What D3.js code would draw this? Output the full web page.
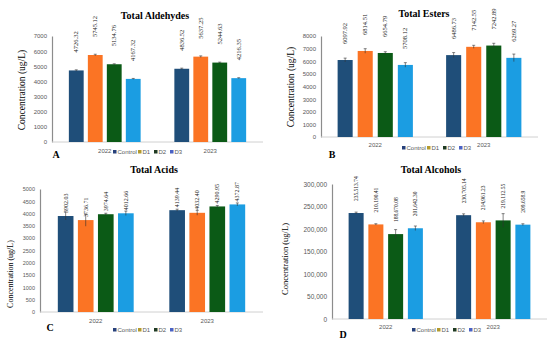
<!DOCTYPE html>
<html>
<head>
<meta charset="utf-8">
<script src="https://cdn.jsdelivr.net/npm/d3@7.9.0/dist/d3.min.js"></script>
<style>
  body { margin: 0; background: #fff; }
  svg { display: block; }
</style>
</head>
<body>
<div id="chart"></div>
<script>
const years = ['2022', '2023'];
const treatments = ['Control', 'D1', 'D2', 'D3'];

// values per year, in treatment order
const aldehydes = [[4726.32, 5745.12, 5134.76, 4167.32], [4836.52, 5637.25, 5244.63, 4216.35]];
const aldehydesErr = [[40, 50, 30, 30], [40, 50, 30, 30]];

const esters = [[6097.92, 6814.51, 6654.79, 5708.12], [6486.73, 7142.55, 7242.89, 6269.27]];
const estersErr = [[150, 180, 100, 180], [200, 120, 180, 300]];

const acids = [[3902.03, 3736.71, 3974.64, 4012.66], [4139.44, 4032.40, 4290.95, 4372.87]];
const acidsErr = [[160, 250, 40, 90], [40, 100, 40, 60]];

const alcohols = [[235513.74, 210190.41, 188670.08, 201642.30], [230705.14, 214961.23, 219112.55, 209658.9]];
const alcoholsErr = [[2000, 1500, 10000, 5000], [3000, 3000, 15000, 2000]];
const alcoholsLabels = [['235,513.74', '210,190.41', '188,670.08', '201,642.30'], ['230,705.14', '214,961.23', '219,112.55', '209,658.9']];

const barColors = ['#1f4e79', '#fb7424', '#0b5a16', '#1b9de2'];
const legendColors = ['#27407a', '#b39a2e', '#1f3a22', '#4a62c4'];

const svg = d3.select('#chart').append('svg')
  .attr('width', 550)
  .attr('height', 344);

const serif = '"Liberation Serif", "DejaVu Serif", serif';
const sans = '"Liberation Sans", Arial, sans-serif';

function drawPanel(p) {
  const g = svg.append('g');

  const x0 = d3.scaleBand()
    .domain(years)
    .range(p.xRange)
    .paddingInner(p.pad)
    .paddingOuter(p.pad / 2);

  const x1 = d3.scaleBand()
    .domain(treatments)
    .range([0, x0.bandwidth()])
    .paddingInner(p.innerPad)
    .paddingOuter(p.innerPad / 2);

  const y = d3.scaleLinear()
    .domain([0, p.max])
    .range(p.yRange);

  // title
  g.append('text')
    .attr('x', p.titleX).attr('y', p.titleY)
    .attr('text-anchor', 'middle')
    .style('font-family', serif).style('font-weight', 'bold')
    .style('font-size', '10px')
    .text(p.title);

  // y axis
  const yAxis = d3.axisLeft(y)
    .tickValues(d3.range(0, p.max + 1, p.step))
    .tickFormat(p.tickFmt)
    .tickSize(0)
    .tickPadding(5);

  const ya = g.append('g')
    .attr('transform', `translate(${p.xRange[0]},0)`)
    .call(yAxis);
  ya.select('.domain').attr('stroke', '#8c8c8c').attr('stroke-width', 1.2);
  ya.selectAll('text')
    .style('font-family', sans).style('font-size', p.tickSize + 'px')
    .attr('fill', '#595959');

  // x axis line
  g.append('line')
    .attr('x1', p.xRange[0]).attr('x2', p.xRange[1])
    .attr('y1', y(0)).attr('y2', y(0))
    .attr('stroke', '#d0d0d0').attr('stroke-width', 1);

  // category labels
  g.selectAll('.cat')
    .data(years)
    .join('text')
    .attr('x', (d) => x0(d) + x0.bandwidth() / 2)
    .attr('y', p.catY)
    .attr('text-anchor', 'middle')
    .style('font-family', sans).style('font-size', '6px')
    .attr('fill', '#595959')
    .text((d) => d);

  // y title
  g.append('text')
    .attr('transform', `translate(${p.yTitleX},${p.yTitleY}) rotate(-90)`)
    .attr('text-anchor', 'middle')
    .style('font-family', serif).style('font-size', p.yTitleSize + 'px')
    .text('Concentration (ug/L)');

  const rows = [];
  years.forEach((yr, i) => {
    treatments.forEach((t, j) => {
      rows.push({
        year: yr, key: t, j,
        value: p.values[i][j],
        err: p.errors[i][j],
        label: p.labels ? p.labels[i][j] : d3.format('.2f')(p.values[i][j]),
      });
    });
  });

  const groups = g.selectAll('.bar')
    .data(rows)
    .join('g')
    .attr('transform', (d) => `translate(${x0(d.year) + x1(d.key)},0)`);

  groups.append('rect')
    .attr('x', 0)
    .attr('y', (d) => y(d.value))
    .attr('width', x1.bandwidth())
    .attr('height', (d) => y(0) - y(d.value))
    .attr('fill', (d) => barColors[d.j]);

  // error bars
  const cx = x1.bandwidth() / 2;
  groups.append('line')
    .attr('x1', cx).attr('x2', cx)
    .attr('y1', (d) => y(d.value - d.err))
    .attr('y2', (d) => y(d.value + d.err))
    .attr('stroke', '#333').attr('stroke-width', 0.6);
  groups.append('line')
    .attr('x1', cx - 1.5).attr('x2', cx + 1.5)
    .attr('y1', (d) => y(d.value + d.err))
    .attr('y2', (d) => y(d.value + d.err))
    .attr('stroke', '#333').attr('stroke-width', 0.6);

  // value labels, rotated
  groups.append('text')
    .attr('transform', (d) => `translate(${cx + 2},${y(d.value) - p.labelGap}) rotate(-90)`)
    .attr('text-anchor', 'start')
    .style('font-family', serif).style('font-size', p.labelSize + 'px')
    .attr('fill', '#222')
    .text((d) => d.label);

  // legend
  const offsets = [0, 25, 41, 57];
  const leg = g.selectAll('.leg')
    .data(treatments)
    .join('g')
    .attr('transform', (d, i) => `translate(${p.legendX + offsets[i]},${p.legendY})`);
  leg.append('rect')
    .attr('x', 0).attr('y', -3)
    .attr('width', 3.5).attr('height', 3.5)
    .attr('fill', (d, i) => legendColors[i]);
  leg.append('text')
    .attr('x', 4.5).attr('y', 1)
    .style('font-family', sans).style('font-size', '6px')
    .attr('fill', '#595959')
    .text((d) => d);

  // panel letter
  g.append('text')
    .attr('x', p.letterX).attr('y', p.letterY)
    .attr('text-anchor', 'middle')
    .style('font-family', serif).style('font-weight', 'bold')
    .style('font-size', '10px')
    .text(p.letter);
}

drawPanel({
  title: 'Total Aldehydes', titleX: 155, titleY: 19,
  values: aldehydes, errors: aldehydesErr,
  xRange: [52, 263], yRange: [142, 36], max: 7000, step: 1000,
  tickFmt: d3.format('d'), tickSize: 6, pad: 0.28, innerPad: 0.22,
  labelGap: 18, labelSize: 6.5,
  yTitleX: 25, yTitleY: 90, yTitleSize: 9.5,
  catY: 153, legendX: 113, legendY: 153,
  letter: 'A', letterX: 56, letterY: 158,
});

drawPanel({
  title: 'Total Esters', titleX: 424, titleY: 17,
  values: esters, errors: estersErr,
  xRange: [321, 538], yRange: [137, 36], max: 8000, step: 1000,
  tickFmt: d3.format('d'), tickSize: 6, pad: 0.26, innerPad: 0.25,
  labelGap: 16, labelSize: 6.5,
  yTitleX: 294, yTitleY: 87, yTitleSize: 9.5,
  catY: 147, legendX: 402, legendY: 149,
  letter: 'B', letterX: 332, letterY: 158,
});

drawPanel({
  title: 'Total Acids', titleX: 154, titleY: 173,
  values: acids, errors: acidsErr,
  xRange: [40, 263], yRange: [312, 189], max: 5000, step: 500,
  tickFmt: d3.format('d'), tickSize: 5.5, pad: 0.28, innerPad: 0.22,
  labelGap: 3, labelSize: 6,
  yTitleX: 13, yTitleY: 274, yTitleSize: 8,
  catY: 323, legendX: 113, legendY: 331,
  letter: 'C', letterX: 50, letterY: 331,
});

drawPanel({
  title: 'Total Alcohols', titleX: 431, titleY: 173,
  values: alcohols, errors: alcoholsErr, labels: alcoholsLabels,
  xRange: [332, 547], yRange: [319, 184], max: 300000, step: 50000,
  tickFmt: d3.format(','), tickSize: 6.5, pad: 0.265, innerPad: 0.24,
  labelGap: 12, labelSize: 5.5,
  yTitleX: 288, yTitleY: 259, yTitleSize: 8.5,
  catY: 329, legendX: 412, legendY: 331,
  letter: 'D', letterX: 343, letterY: 338,
});
</script>
</body>
</html>
